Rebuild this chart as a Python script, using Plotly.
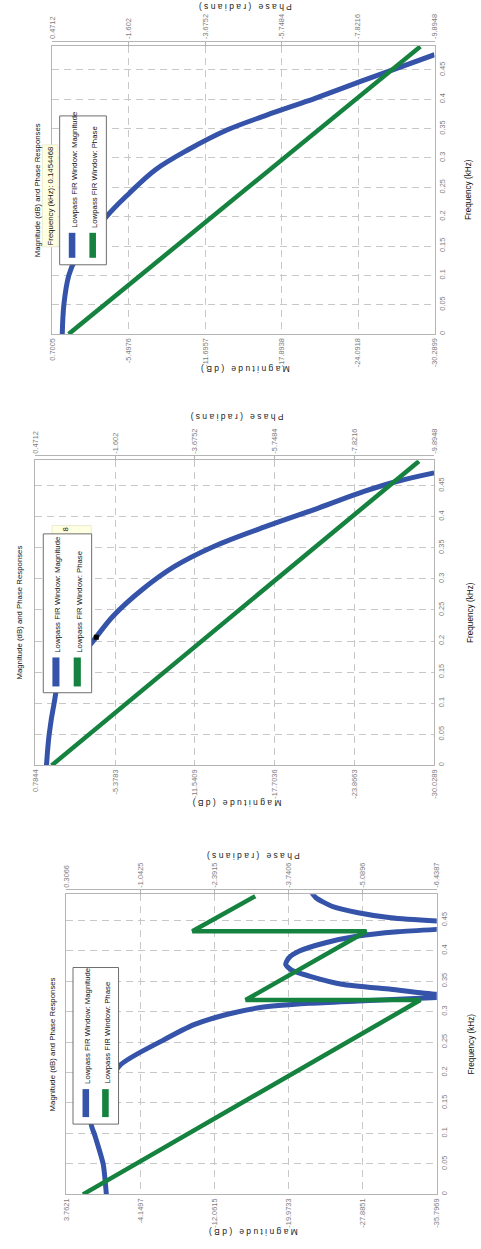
import plotly.graph_objects as go

W, H = 481, 1249

BLUE = "#3453a9"
GREEN = "#16823f"
GRID = "#c8c8c8"
BORDER = "#b4b4b4"
TICK_COLOR = "#7c7c7c"
FONT = "Liberation Sans, Arial, sans-serif"

# Frequency axis ticks (kHz), shared by all three plots
FREQ_TICKS = [0, 0.05, 0.1, 0.15, 0.2, 0.25, 0.3, 0.35, 0.4, 0.45]
FREQ_LABELS = ["0", "0.05", "0.1", "0.15", "0.2", "0.25", "0.3", "0.35", "0.4", "0.45"]

# ---- Plot A ----
A_MAG_FREQ = [0, 0.05, 0.10, 0.127, 0.20, 0.24, 0.28, 0.314, 0.348, 0.373, 0.402, 0.433, 0.453, 0.476]
A_MAG_DB = [-0.10, -0.23, -0.63, -1.16, -3.68, -5.54, -7.66, -10.31, -13.50, -16.68, -20.66, -24.64, -27.29, -30.29]
A_PHASE_FREQ = [0, 0.4898]
A_PHASE_RAD = [0.03, -9.51]
A_MAG_TICKS = ["0.7005", "-5.4976", "-11.6957", "-17.8938", "-24.0918", "-30.2899"]
A_PHASE_TICKS = ["0.4712", "-1.602", "-3.6752", "-5.7484", "-7.8216", "-9.8948"]
A_FMAX = 0.4914

# ---- Plot B ----
B_MAG_FREQ = [0, 0.05, 0.10, 0.133, 0.197, 0.24, 0.283, 0.3205, 0.3526, 0.3848, 0.4143, 0.441, 0.457, 0.4705]
B_MAG_DB = [-0.07, -0.28, -0.66, -1.04, -3.56, -5.21, -7.48, -10.00, -13.04, -17.09, -21.13, -24.67, -27.20, -30.03]
B_PHASE_FREQ = [0, 0.4893]
B_PHASE_RAD = [0.05, -9.50]
B_MAG_TICKS = ["0.7844", "-5.3783", "-11.5409", "-17.7036", "-23.8663", "-30.0289"]
B_PHASE_TICKS = ["0.4712", "-1.602", "-3.6752", "-5.7484", "-7.8216", "-9.8948"]
B_FMAX = 0.4907
B_CURSOR_FREQ = [0.2063]
B_CURSOR_DB = [-3.92]

# ---- Plot C ----
C_MAG_FREQ = [0, 0.05, 0.096, 0.118, 0.211, 0.252, 0.279, 0.2956, 0.3066, 0.3136, 0.3174, 0.323,
              0.3256, 0.3283, 0.3366, 0.345, 0.3584, 0.368, 0.3776, 0.388, 0.3993, 0.413,
              0.424, 0.431, 0.435, 0.442, 0.4486, 0.454, 0.4623, 0.473, 0.4869, 0.4977]
C_MAG_DB = [-0.53, -0.19, 0.68, 1.10, -1.93, -6.47, -9.96, -13.46, -16.95, -22.20, -27.40, -35.80,
            -45.0, -35.80, -30.91, -25.67, -22.18, -20.30, -19.67, -20.00, -21.13, -23.93,
            -27.42, -31.61, -35.80, -45.0, -35.80, -30.90, -27.40, -24.60, -22.90, -22.35]
C_PHASE_FREQ = [0, 0.319, 0.319, 0.432, 0.432, 0.4895]
C_PHASE_RAD = [0.0, -6.14, -2.96, -5.16, -1.99, -3.135]
C_MAG_TICKS = ["3.7621", "-4.1497", "-12.0615", "-19.9733", "-27.8851", "-35.7969"]
C_PHASE_TICKS = ["0.3066", "-1.0425", "-2.3915", "-3.7406", "-5.0896", "-6.4387"]
C_FMAX = 0.4926

TITLE = "Magnitude (dB) and Phase Responses"
LEG_MAG = "Lowpass FIR Window: Magnitude"
LEG_PHASE = "Lowpass FIR Window: Phase"


def px(xp):
    return xp / W


def py(yp):
    return 1 - yp / H


panels = [
    dict(mf=A_MAG_FREQ, md=A_MAG_DB, pf=A_PHASE_FREQ, pr=A_PHASE_RAD, mt=A_MAG_TICKS,
         pt=A_PHASE_TICKS, fmax=A_FMAX, box=(48.3, 45.7, 437.7, 334.3),
         title_x=33, freq_x=473, mag_y=370, phase_y=7,
         legend=(55.7, 116, 103.3, 265), s1=(65, 71.7), s2=(86, 92.7), samp_y=(233, 258),
         t1x=71.3, t2x=92, text_y=230),
    dict(mf=B_MAG_FREQ, md=B_MAG_DB, pf=B_PHASE_FREQ, pr=B_PHASE_RAD, mt=B_MAG_TICKS,
         pt=B_PHASE_TICKS, fmax=B_FMAX, box=(31, 460.7, 437.3, 766),
         title_x=15, freq_x=475, mag_y=803, phase_y=418,
         legend=(39, 534.3, 88.3, 693.3), s1=(48.3, 55.5), s2=(70, 77.3), samp_y=(658, 687),
         t1x=53.3, t2x=75.7, text_y=655),
    dict(mf=C_MAG_FREQ, md=C_MAG_DB, pf=C_PHASE_FREQ, pr=C_PHASE_RAD, mt=C_MAG_TICKS,
         pt=C_PHASE_TICKS, fmax=C_FMAX, box=(62.3, 895, 440, 1195.3),
         title_x=48, freq_x=475, mag_y=1233, phase_y=856,
         legend=(69.3, 968.3, 115.7, 1125), s1=(79, 85.7), s2=(99, 105.7), samp_y=(1090, 1118),
         t1x=84.7, t2x=104.7, text_y=1086.7),
]

fig = go.Figure()
layout = {}
shapes = []
annotations = []
EPS = 1e-4

tick_font = dict(family=FONT, size=7.4, color=TICK_COLOR)
text_font = dict(family=FONT, size=7.8, color="#111111")
label_font = dict(family=FONT, size=8.5, color="#222222")

for i, p in enumerate(panels):
    nm, npz, ny = 2 * i + 1, 2 * i + 2, i + 1
    xm = "x" if nm == 1 else f"x{nm}"
    xp = f"x{npz}"
    yn = "y" if ny == 1 else f"y{ny}"
    l, t, r, b = p["box"]
    mvals = [float(v) for v in p["mt"]]
    pvals = [float(v) for v in p["pt"]]

    fig.add_trace(go.Scatter(x=p["md"], y=p["mf"], xaxis=xm, yaxis=yn, mode="lines",
                             line=dict(color=BLUE, width=5, shape="spline",
                                       smoothing=1.0 if i < 2 else 0.6),
                             hoverinfo="skip"))
    fig.add_trace(go.Scatter(x=p["pr"], y=p["pf"], xaxis=xp, yaxis=yn, mode="lines",
                             line=dict(color=GREEN, width=4.5), hoverinfo="skip"))

    layout["xaxis" if nm == 1 else f"xaxis{nm}"] = dict(
        domain=[px(l), px(r)], anchor=yn, range=[mvals[0] + EPS, mvals[-1] - EPS],
        tickmode="array", tickvals=mvals, ticktext=p["mt"], tickangle=-90,
        tickfont=tick_font, showgrid=True, gridcolor=GRID, griddash="7px,5px", gridwidth=1,
        showline=True, linecolor=BORDER, linewidth=1.3, mirror=True, zeroline=False, ticks="")
    layout[f"xaxis{npz}"] = dict(
        domain=[px(l), px(r)], overlaying=xm, anchor="free", position=py(t - 5), side="top",
        range=[pvals[0] + EPS, pvals[-1] - EPS], tickmode="array", tickvals=pvals,
        ticktext=p["pt"], tickangle=-90, tickfont=tick_font, showgrid=False,
        showline=True, linecolor=BORDER, linewidth=1.3, ticks="inside", ticklen=5,
        tickcolor=BORDER, zeroline=False)
    layout["yaxis" if ny == 1 else f"yaxis{ny}"] = dict(
        domain=[py(b), py(t)], anchor=xm, side="right", range=[0, p["fmax"]],
        tickmode="array", tickvals=FREQ_TICKS, ticktext=FREQ_LABELS, tickangle=-90,
        tickfont=tick_font, showgrid=True, gridcolor=GRID, griddash="7px,5px", gridwidth=1,
        showline=True, linecolor=BORDER, linewidth=1.3, mirror=True, zeroline=False, ticks="")

    cy = (t + b) / 2
    cx = (l + r) / 2
    annotations += [
        dict(text=TITLE, x=px(p["title_x"]), y=py(cy), textangle=-90, font=text_font),
        dict(text="Frequency (kHz)", x=px(p["freq_x"]), y=py(cy), textangle=-90,
             font=dict(family=FONT, size=8.2, color="#111111")),
        dict(text="M a g n i t u d e   ( d B )", x=px(cx + 2), y=py(p["mag_y"]), textangle=180,
             font=label_font),
        dict(text="P h a s e   ( r a d i a n s )", x=px(cx + 2), y=py(p["phase_y"]), textangle=180,
             font=label_font),
    ]

    if i == 0:
        shapes.append(dict(type="rect", xref="paper", yref="paper", x0=px(38), x1=px(54),
                           y0=py(247), y1=py(145), fillcolor="#ffffe1",
                           line=dict(color="#ecebd0", width=1), layer="above"))
        annotations.append(dict(text="Frequency (kHz): 0.1454468", x=px(46.5), y=py(196),
                                textangle=-90, font=text_font))
    if i == 1:
        fig.add_trace(go.Scatter(x=B_CURSOR_DB, y=B_CURSOR_FREQ, xaxis=xm, yaxis=yn,
                                 mode="markers", marker=dict(symbol="square", size=5, color="black"),
                                 hoverinfo="skip"))
        shapes.append(dict(type="rect", xref="paper", yref="paper", x0=px(48), x1=px(88),
                           y0=py(560), y1=py(526), fillcolor="#ffffe1",
                           line=dict(color="#ecebd0", width=1), layer="above"))
        annotations.append(dict(text="8", x=px(61.7), y=py(530.5), textangle=-90, font=text_font))

    lx0, ly0, lx1, ly1 = p["legend"]
    shapes.append(dict(type="rect", xref="paper", yref="paper", x0=px(lx0), x1=px(lx1),
                       y0=py(ly1), y1=py(ly0), fillcolor="white",
                       line=dict(color="#6e6e6e", width=1), layer="above"))
    sy0, sy1 = p["samp_y"]
    for (sx0, sx1), col in ((p["s1"], BLUE), (p["s2"], GREEN)):
        shapes.append(dict(type="rect", xref="paper", yref="paper", x0=px(sx0), x1=px(sx1),
                           y0=py(sy1), y1=py(sy0), fillcolor=col, line=dict(width=0),
                           layer="above"))
    annotations += [
        dict(text=LEG_MAG, x=px(p["t1x"]), y=py(p["text_y"]), yanchor="bottom", textangle=-90,
             font=text_font),
        dict(text=LEG_PHASE, x=px(p["t2x"]), y=py(p["text_y"]), yanchor="bottom", textangle=-90,
             font=text_font),
    ]

for a in annotations:
    a.setdefault("xref", "paper")
    a.setdefault("yref", "paper")
    a.setdefault("showarrow", False)
    a.setdefault("xanchor", "center")
    a.setdefault("yanchor", "middle")

fig.update_layout(
    width=W, height=H, autosize=False,
    margin=dict(l=0, r=0, t=0, b=0),
    paper_bgcolor="white", plot_bgcolor="white",
    showlegend=False, shapes=shapes, annotations=annotations,
    **layout,
)

fig.write_html("out.html")
